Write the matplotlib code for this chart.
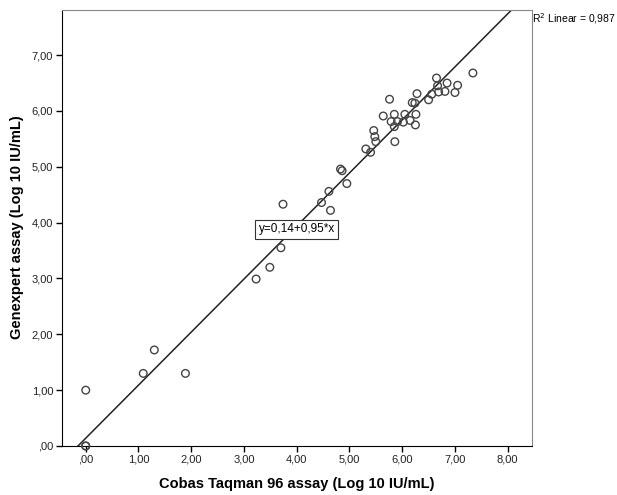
import matplotlib
matplotlib.use('Agg')
import matplotlib.pyplot as plt
import numpy as np

plt.rcParams['font.family'] = ['Liberation Sans', 'DejaVu Sans']

# values (log10 IU/mL)
cobas = [0.00, 0.00, 0.00, 1.09, 1.30, 1.89, 3.23, 3.49, 3.70, 3.74,
         4.47, 4.61, 4.64, 4.83, 4.86, 4.95, 5.31, 5.40, 5.46, 5.48,
         5.50, 5.64, 5.76, 5.79, 5.85, 5.85, 5.86, 5.91, 6.02, 6.05,
         6.15, 6.25, 6.19, 6.24, 6.26, 6.28, 6.50, 6.56, 6.65, 6.67,
         6.69, 6.81, 6.85, 7.00, 7.05, 7.34]
genexpert = [0.00, 0.00, 1.00, 1.30, 1.72, 1.30, 2.99, 3.20, 3.55, 4.33,
             4.36, 4.56, 4.22, 4.96, 4.93, 4.70, 5.32, 5.26, 5.65, 5.54,
             5.45, 5.91, 6.21, 5.81, 5.94, 5.72, 5.45, 5.81, 5.80, 5.94,
             5.83, 5.75, 6.15, 6.14, 5.94, 6.31, 6.20, 6.30, 6.59, 6.45,
             6.34, 6.35, 6.50, 6.33, 6.46, 6.68]

intercept = 0.14
slope = 0.95
r2 = '0,987'

x_ticks = [0, 1, 2, 3, 4, 5, 6, 7, 8]
y_ticks = [0, 1, 2, 3, 4, 5, 6, 7]

fig = plt.figure(figsize=(6.17, 4.95), dpi=100)
ax = fig.add_axes([0.1005, 0.099, 0.7617, 0.881])

xmin, xmax = -0.45, 8.46
ymin, ymax = 0, 7.81
ax.set_xlim(xmin, xmax)
ax.set_ylim(ymin, ymax)

# fit line over whole axis range
lx = np.array([xmin, xmax])
ax.plot(lx, intercept + slope * lx, color='#222222', linewidth=1.1, zorder=2)

ax.scatter(cobas, genexpert, s=30, facecolors='none', edgecolors='#444444',
           linewidths=1.0, zorder=3, clip_on=False)

ax.set_xticks(x_ticks)
ax.set_yticks(y_ticks)
ax.set_xticklabels([(',00' if v == 0 else f'{v},00') for v in x_ticks])
ax.set_yticklabels([(',00' if v == 0 else f'{v},00') for v in y_ticks])
ax.tick_params(direction='out', length=4.3, width=1, labelsize=8,
               pad=2, color='black', labelcolor='#222222')

for side in ['top', 'right']:
    ax.spines[side].set_color('#888888')
for side in ['left', 'bottom']:
    ax.spines[side].set_color('black')

ax.set_xlabel('Cobas Taqman 96 assay (Log 10 IU/mL)', fontsize=10.5,
              fontweight='bold', va='center')
ax.set_ylabel('Genexpert assay (Log 10 IU/mL)', fontsize=10.5,
              fontweight='bold', va='center')
ax.xaxis.set_label_coords(0.50, -0.088)
ax.yaxis.set_label_coords(-0.096, 0.501)

ax.text(4.0, 3.88, 'y=0,14+0,95*x', fontsize=8.5, ha='center', va='center',
        bbox=dict(boxstyle='square,pad=0.3', facecolor='white',
                  edgecolor='#333333', linewidth=0.8), zorder=4)

fig.text(0.862, 0.962, 'R$^2$ Linear = ' + r2, fontsize=7.5, ha='left', va='center')

fig.savefig('out.png', dpi=100)
